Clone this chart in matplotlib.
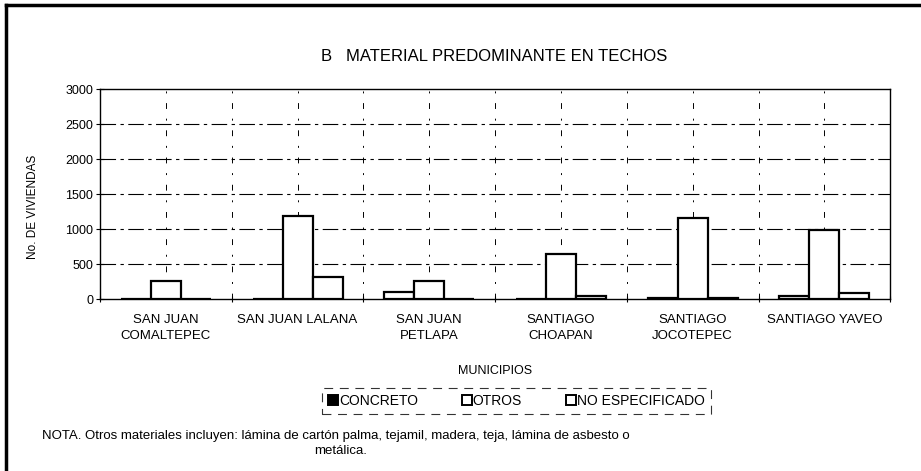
import numpy as np
from matplotlib import pyplot as plt
from matplotlib.lines import Line2D

plt.rcParams['font.family'] = ['Liberation Sans', 'DejaVu Sans']

municipios = ["SAN JUAN\nCOMALTEPEC", "SAN JUAN LALANA", "SAN JUAN\nPETLAPA",
              "SANTIAGO\nCHOAPAN", "SANTIAGO\nJOCOTEPEC", "SANTIAGO YAVEO"]
concreto = [0, 0, 95, 0, 10, 40]
otros = [265, 1180, 265, 650, 1160, 980]
no_especificado = [5, 320, 5, 40, 10, 80]
series_names = ["CONCRETO", "OTROS", "NO ESPECIFICADO"]
y_ticks = [0, 500, 1000, 1500, 2000, 2500, 3000]

fig = plt.figure(figsize=(9.21, 4.71), dpi=100)
ax = fig.add_axes([0.1086, 0.365, 0.858, 0.446])

x = np.arange(len(municipios))
w = 0.228
ax.bar(x - w, concreto, w, color="white", edgecolor="black", linewidth=1.6, zorder=3)
ax.bar(x, otros, w, color="white", edgecolor="black", linewidth=1.6, zorder=3)
ax.bar(x + w, no_especificado, w, color="white", edgecolor="black", linewidth=1.6, zorder=3)

ax.set_xlim(-0.5, len(municipios) - 0.5)
ax.set_ylim(0, 3000)
ax.set_yticks(y_ticks)
ax.tick_params(axis="y", direction="inout", length=6, labelsize=9, width=0.8, pad=2)
ax.set_xticks(x)
ax.set_xticklabels(municipios, fontsize=9.5, linespacing=1.4)
ax.tick_params(axis="x", length=0, pad=11)
ax.set_xticks(np.arange(-0.5, len(municipios), 0.5), minor=True)
ax.tick_params(axis="x", which="minor", direction="inout", length=5, width=0.8)

# rejilla
for yv in y_ticks[1:-1]:
    ax.axhline(yv, color="black", linewidth=0.8, linestyle=(0, (14, 4, 3, 4)), zorder=1)
for xv in np.arange(0, len(municipios) - 0.5, 0.5):
    ax.axvline(xv, color="black", linewidth=0.7, linestyle=(0, (6, 10, 2, 10)), zorder=1)

for s in ax.spines.values():
    s.set_linewidth(1.0)

fig.text(0.036, 0.56, "No. DE VIVIENDAS", rotation=90, ha="center", va="center", fontsize=8.5)
fig.text(0.537, 0.88, "B   MATERIAL PREDOMINANTE EN TECHOS", ha="center", va="center", fontsize=12)
fig.text(0.537, 0.212, "MUNICIPIOS", ha="center", va="center", fontsize=9)

handles = [Line2D([], [], marker="s", linestyle="none", markersize=7, markerfacecolor=c,
                  markeredgecolor="black", markeredgewidth=1.4) for c in ["black", "white", "white"]]
leg = fig.legend(handles, series_names, loc="center", bbox_to_anchor=(0.561, 0.149), ncol=3,
                 fontsize=10, handlelength=0.6, handletextpad=0.15, columnspacing=3.2,
                 frameon=True, fancybox=False, borderpad=0.45)
leg.get_frame().set_edgecolor("black")
leg.get_frame().set_linestyle((0, (8, 6)))
leg.get_frame().set_linewidth(0.8)

fig.text(0.046, 0.074, "NOTA. Otros materiales incluyen: lámina de cartón palma, tejamil, madera, teja, lámina de asbesto o",
         fontsize=9.5, va="center")
fig.text(0.370, 0.042, "metálica.", fontsize=9.5, va="center", ha="center")

# marco de la figura
fig.add_artist(Line2D([0.006, 1.0], [0.99, 0.99], color="black", linewidth=2.5))
fig.add_artist(Line2D([0.006, 0.006], [0.0, 0.99], color="black", linewidth=2.5))

fig.savefig("out.png", dpi=100)
